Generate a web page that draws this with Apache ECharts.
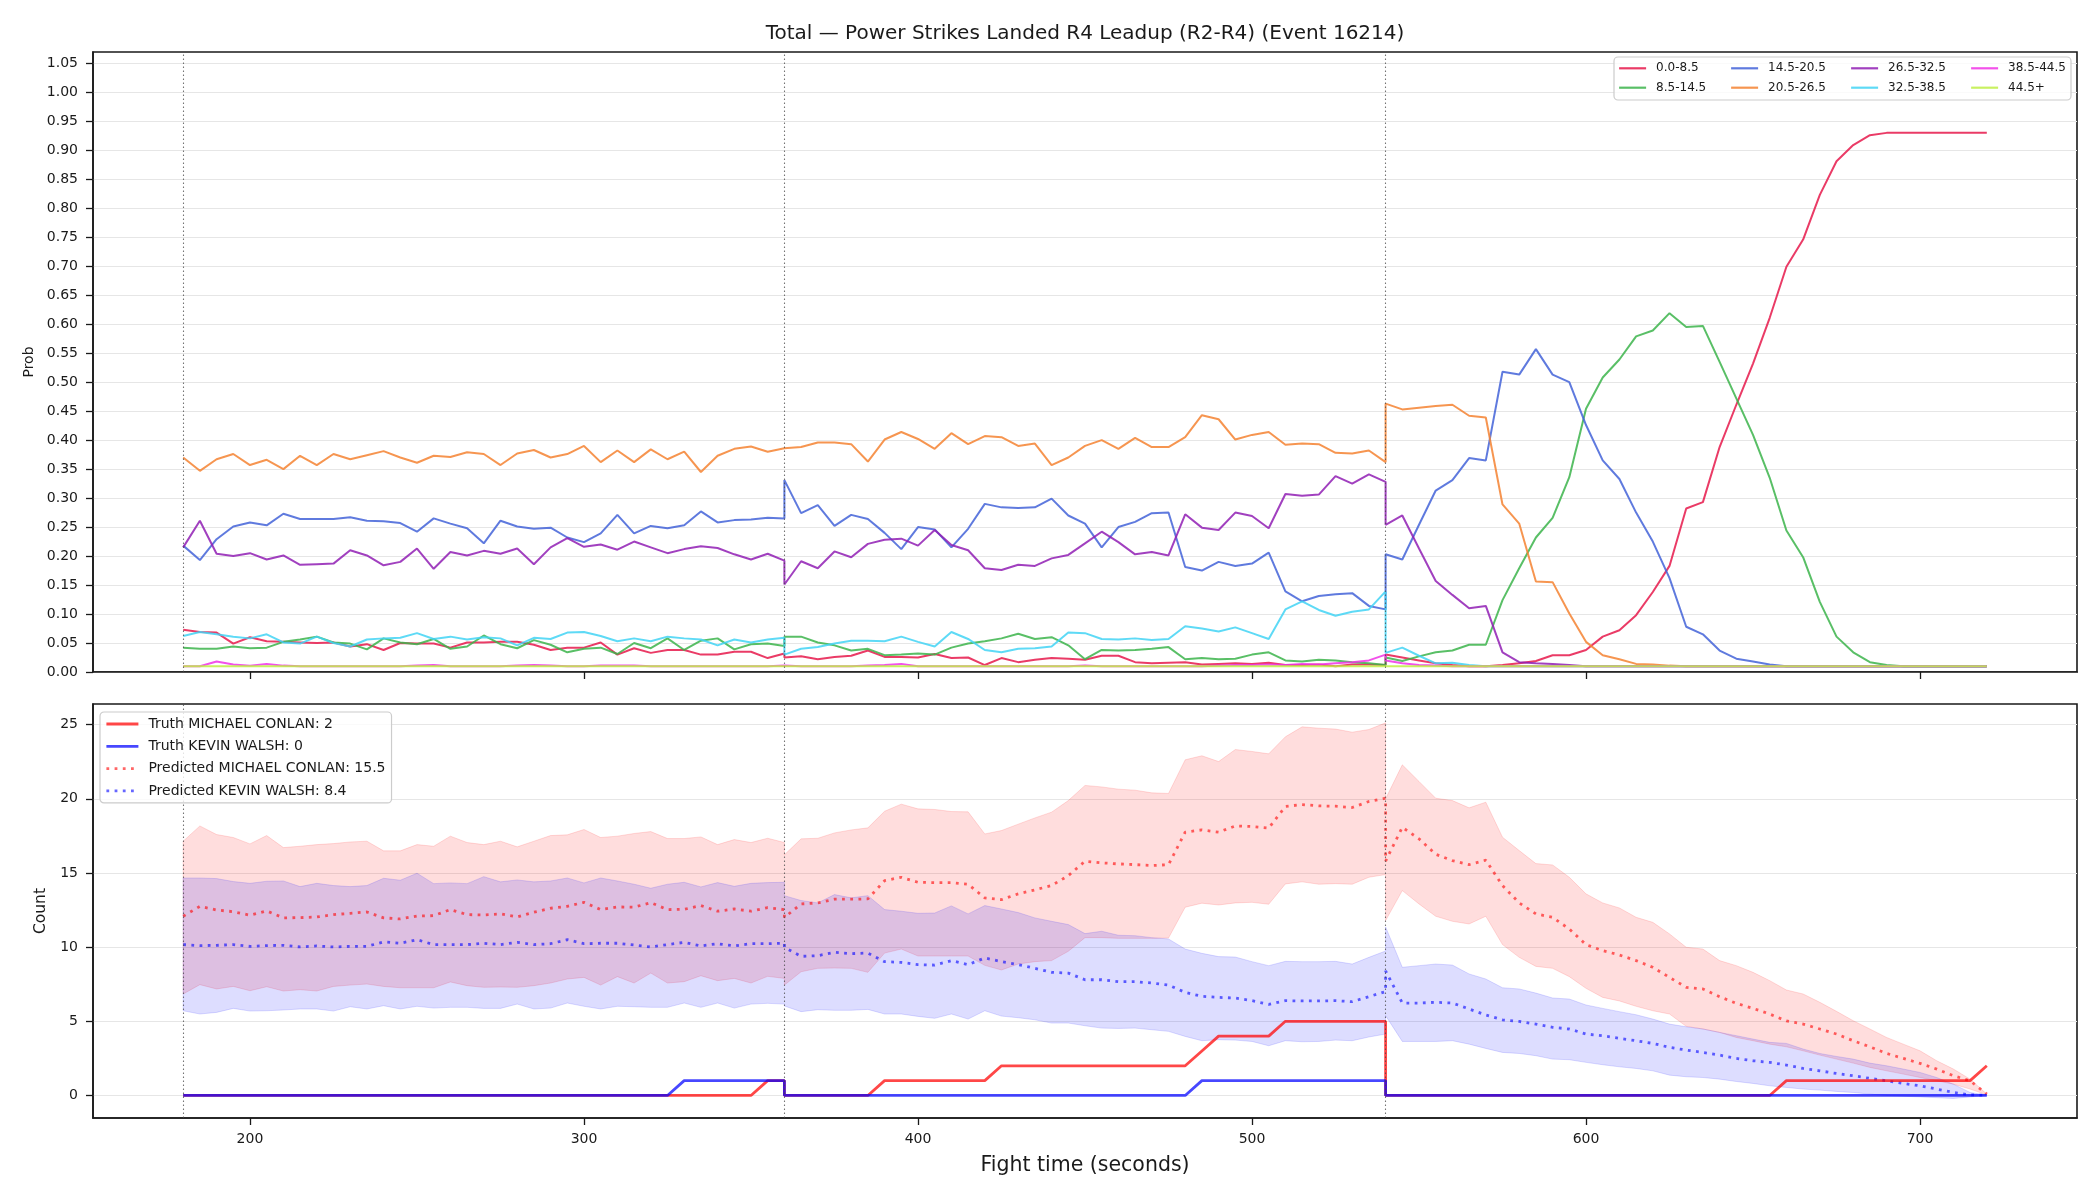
<!DOCTYPE html>
<html><head><meta charset="utf-8">
<script src="https://cdn.jsdelivr.net/npm/echarts@6/dist/echarts.min.js"></script>
<style>html,body{margin:0;padding:0;background:#fff}#c{width:2100px;height:1200px}</style>
</head><body><div id="c"></div>
<script>
// ---------- sampling grid (3 rounds, 5 s steps, 37 samples each) ----------
const roundStarts = [180, 360, 540];
const roundLabels = ['R2', 'R3', 'R4'];
const stepSec = 5, samplesPerRound = 37;
const times = [];
roundStarts.forEach(s => { for (let k = 0; k < samplesPerRound; k++) times.push(s + stepSec * k); });

const xTicks = [200, 300, 400, 500, 600, 700];
const yTicksTop = [0,0.05,0.1,0.15,0.2,0.25,0.3,0.35,0.4,0.45,0.5,0.55,0.6,0.65,0.7,0.75,0.8,0.85,0.9,0.95,1.0,1.05];
const yTicksBottom = [0, 5, 10, 15, 20, 25];

// ---------- top panel: probability per bucket ----------
const bucketNames = ['0.0-8.5','8.5-14.5','14.5-20.5','20.5-26.5','26.5-32.5','32.5-38.5','38.5-44.5','44.5+'];
const prob_0_8 = [
 0.073,0.069,0.068,0.049,0.060,0.053,0.052,0.051,0.050,0.051,0.044,0.048,0.038,0.050,0.049,0.049,0.042,0.051,0.051,0.052,0.052,0.047,0.038,0.042,0.042,0.051,0.030,0.041,0.033,0.038,0.038,0.030,0.030,0.035,0.035,0.024,0.032,
 0.025,0.027,0.022,0.026,0.028,0.037,0.026,0.026,0.025,0.031,0.024,0.025,0.012,0.024,0.017,0.021,0.024,0.023,0.021,0.028,0.028,0.017,0.015,0.016,0.017,0.013,0.014,0.015,0.014,0.016,0.012,0.012,0.013,0.010,0.013,0.013,0.012,
 0.030,0.025,0.020,0.015,0.012,0.010,0.010,0.012,0.015,0.019,0.029,0.029,0.038,0.061,0.072,0.098,0.138,0.183,0.282,0.293,0.388,0.461,0.532,0.611,0.699,0.746,0.823,0.881,0.909,0.926,0.930,0.930,0.930,0.930,0.930,0.930,0.930];
const prob_8_14 = [
 0.042,0.040,0.040,0.044,0.041,0.042,0.052,0.056,0.061,0.051,0.049,0.039,0.058,0.051,0.048,0.057,0.040,0.044,0.063,0.048,0.041,0.055,0.047,0.034,0.040,0.042,0.031,0.050,0.041,0.058,0.038,0.054,0.058,0.039,0.048,0.049,0.045,
 0.061,0.061,0.051,0.046,0.037,0.040,0.029,0.030,0.032,0.030,0.042,0.049,0.053,0.058,0.066,0.057,0.060,0.046,0.022,0.038,0.037,0.038,0.040,0.043,0.022,0.024,0.022,0.023,0.030,0.034,0.020,0.018,0.021,0.020,0.017,0.015,0.012,
 0.025,0.019,0.027,0.034,0.037,0.047,0.047,0.124,0.179,0.232,0.266,0.336,0.454,0.508,0.539,0.579,0.589,0.619,0.595,0.597,0.535,0.472,0.409,0.335,0.244,0.198,0.121,0.061,0.034,0.017,0.012,0.010,0.010,0.010,0.010,0.010,0.010];
const prob_14_20 = [
 0.218,0.193,0.229,0.251,0.258,0.253,0.273,0.264,0.264,0.264,0.267,0.261,0.260,0.257,0.242,0.265,0.256,0.248,0.222,0.261,0.251,0.247,0.249,0.232,0.224,0.239,0.271,0.239,0.252,0.248,0.253,0.277,0.258,0.262,0.263,0.266,0.265,
 0.331,0.274,0.288,0.252,0.271,0.264,0.240,0.212,0.250,0.246,0.215,0.247,0.290,0.284,0.283,0.284,0.299,0.270,0.256,0.215,0.250,0.259,0.274,0.275,0.181,0.175,0.190,0.183,0.187,0.206,0.139,0.122,0.131,0.134,0.136,0.114,0.108,
 0.203,0.194,0.254,0.313,0.331,0.369,0.365,0.518,0.513,0.557,0.513,0.500,0.426,0.365,0.333,0.275,0.225,0.162,0.078,0.065,0.037,0.023,0.018,0.013,0.010,0.010,0.010,0.010,0.010,0.010,0.010,0.010,0.010,0.010,0.010,0.010,0.010];
const prob_20_26 = [
 0.370,0.347,0.367,0.376,0.357,0.366,0.350,0.373,0.357,0.376,0.367,0.374,0.381,0.370,0.361,0.373,0.371,0.379,0.376,0.357,0.377,0.383,0.370,0.376,0.390,0.362,0.382,0.362,0.384,0.367,0.380,0.345,0.373,0.385,0.389,0.380,0.386,
 0.388,0.388,0.396,0.396,0.393,0.363,0.401,0.414,0.402,0.385,0.412,0.393,0.407,0.405,0.390,0.394,0.357,0.370,0.390,0.400,0.385,0.404,0.388,0.388,0.405,0.443,0.436,0.401,0.409,0.414,0.392,0.394,0.393,0.378,0.377,0.382,0.362,
 0.463,0.453,0.456,0.459,0.461,0.442,0.439,0.289,0.256,0.156,0.155,0.101,0.052,0.029,0.022,0.014,0.013,0.011,0.010,0.010,0.010,0.010,0.010,0.010,0.010,0.010,0.010,0.010,0.010,0.010,0.010,0.010,0.010,0.010,0.010,0.010,0.010];
const prob_26_32 = [
 0.215,0.261,0.204,0.200,0.205,0.194,0.201,0.185,0.186,0.187,0.210,0.201,0.184,0.190,0.213,0.178,0.207,0.201,0.209,0.204,0.213,0.186,0.215,0.231,0.216,0.220,0.211,0.225,0.215,0.205,0.212,0.217,0.214,0.203,0.194,0.204,0.192,
 0.151,0.191,0.179,0.208,0.198,0.221,0.228,0.230,0.218,0.245,0.219,0.210,0.179,0.176,0.185,0.183,0.196,0.202,0.222,0.242,0.224,0.203,0.207,0.201,0.272,0.249,0.245,0.275,0.269,0.248,0.307,0.304,0.306,0.338,0.325,0.341,0.328,
 0.254,0.270,0.213,0.157,0.133,0.110,0.114,0.034,0.017,0.015,0.014,0.012,0.010,0.010,0.010,0.010,0.010,0.010,0.010,0.010,0.010,0.010,0.010,0.010,0.010,0.010,0.010,0.010,0.010,0.010,0.010,0.010,0.010,0.010,0.010,0.010,0.010];
const prob_32_38 = [
 0.062,0.069,0.065,0.061,0.058,0.065,0.051,0.049,0.061,0.050,0.044,0.056,0.058,0.059,0.067,0.057,0.061,0.056,0.060,0.058,0.046,0.059,0.057,0.068,0.069,0.062,0.053,0.058,0.053,0.061,0.058,0.056,0.046,0.056,0.051,0.056,0.059,
 0.030,0.040,0.043,0.049,0.054,0.054,0.053,0.061,0.052,0.044,0.069,0.057,0.038,0.034,0.040,0.041,0.044,0.068,0.067,0.057,0.056,0.058,0.055,0.057,0.079,0.075,0.070,0.077,0.067,0.057,0.108,0.122,0.107,0.097,0.104,0.108,0.139,
 0.033,0.042,0.028,0.015,0.016,0.012,0.010,0.010,0.010,0.010,0.010,0.010,0.010,0.010,0.010,0.010,0.010,0.010,0.010,0.010,0.010,0.010,0.010,0.010,0.010,0.010,0.010,0.010,0.010,0.010,0.010,0.010,0.010,0.010,0.010,0.010,0.010];
const prob_38_44 = [
 0.010,0.010,0.018,0.013,0.011,0.014,0.011,0.010,0.010,0.010,0.010,0.010,0.010,0.010,0.011,0.012,0.010,0.010,0.010,0.010,0.011,0.012,0.011,0.010,0.010,0.011,0.011,0.011,0.010,0.010,0.010,0.010,0.010,0.010,0.010,0.010,0.011,
 0.011,0.010,0.010,0.010,0.010,0.011,0.012,0.014,0.010,0.010,0.010,0.010,0.010,0.010,0.010,0.010,0.010,0.010,0.011,0.010,0.010,0.010,0.010,0.010,0.010,0.010,0.011,0.012,0.012,0.013,0.012,0.014,0.013,0.015,0.017,0.020,0.030,
 0.020,0.015,0.012,0.011,0.010,0.010,0.010,0.010,0.010,0.010,0.010,0.010,0.010,0.010,0.010,0.010,0.010,0.010,0.010,0.010,0.010,0.010,0.010,0.010,0.010,0.010,0.010,0.010,0.010,0.010,0.010,0.010,0.010,0.010,0.010,0.010,0.010];
const prob_44_up = [
 0.010,0.010,0.010,0.010,0.010,0.010,0.010,0.010,0.010,0.010,0.010,0.010,0.010,0.010,0.010,0.010,0.010,0.010,0.010,0.010,0.010,0.010,0.010,0.010,0.010,0.010,0.010,0.010,0.010,0.010,0.010,0.010,0.010,0.010,0.010,0.010,0.010,
 0.010,0.010,0.010,0.010,0.010,0.010,0.010,0.010,0.010,0.010,0.010,0.010,0.010,0.010,0.010,0.010,0.010,0.010,0.010,0.010,0.010,0.010,0.010,0.010,0.010,0.010,0.010,0.010,0.010,0.010,0.010,0.010,0.010,0.010,0.010,0.010,0.010,
 0.010,0.010,0.010,0.010,0.010,0.010,0.010,0.010,0.010,0.010,0.010,0.010,0.010,0.010,0.010,0.010,0.010,0.010,0.010,0.010,0.010,0.010,0.010,0.010,0.010,0.010,0.010,0.010,0.010,0.010,0.010,0.010,0.010,0.010,0.010,0.010,0.010];
const bucketValues = [prob_0_8, prob_8_14, prob_14_20, prob_20_26, prob_26_32, prob_32_38, prob_38_44, prob_44_up];
const bucketColors = ['rgba(230,25,75,0.85)','rgba(60,180,75,0.85)','rgba(67,99,216,0.85)','rgba(245,130,49,0.85)',
                      'rgba(145,30,180,0.85)','rgba(66,212,244,0.85)','rgba(240,50,230,0.85)','rgba(191,239,69,0.85)'];

// ---------- bottom panel: counts ----------
const nameTruthA = 'Truth MICHAEL CONLAN: 2';
const nameTruthB = 'Truth KEVIN WALSH: 0';
const namePredA = 'Predicted MICHAEL CONLAN: 15.5';
const namePredB = 'Predicted KEVIN WALSH: 8.4';
const truthA = [
 0,0,0,0,0,0,0,0,0,0,0,0,0,0,0,0,0,0,0,0,0,0,0,0,0,0,0,0,0,0,0,0,0,0,0,1,1,
 0,0,0,0,0,0,1,1,1,1,1,1,1,2,2,2,2,2,2,2,2,2,2,2,2,3,4,4,4,4,5,5,5,5,5,5,5,
 0,0,0,0,0,0,0,0,0,0,0,0,0,0,0,0,0,0,0,0,0,0,0,0,1,1,1,1,1,1,1,1,1,1,1,1,2];
const truthB = [
 0,0,0,0,0,0,0,0,0,0,0,0,0,0,0,0,0,0,0,0,0,0,0,0,0,0,0,0,0,0,1,1,1,1,1,1,1,
 0,0,0,0,0,0,0,0,0,0,0,0,0,0,0,0,0,0,0,0,0,0,0,0,0,1,1,1,1,1,1,1,1,1,1,1,1,
 0,0,0,0,0,0,0,0,0,0,0,0,0,0,0,0,0,0,0,0,0,0,0,0,0,0,0,0,0,0,0,0,0,0,0,0,0];
const predA = [
 12.08,12.75,12.5,12.39,12.15,12.44,11.97,11.99,12.03,12.19,12.28,12.37,11.97,11.9,12.1,12.12,12.53,12.19,12.17,12.24,12.03,12.35,12.62,12.75,13.02,12.53,12.71,12.69,13.0,12.53,12.55,12.8,12.42,12.57,12.42,12.66,12.53,
 12.0,12.91,12.98,13.23,13.23,13.25,14.48,14.71,14.37,14.35,14.35,14.24,13.32,13.2,13.59,13.86,14.15,14.82,15.79,15.68,15.61,15.56,15.5,15.56,17.75,17.9,17.75,18.17,18.13,18.02,19.48,19.61,19.52,19.5,19.41,19.82,20.04,
 15.8,18.08,17.3,16.26,15.83,15.56,15.86,14.15,12.98,12.24,12.01,11.22,10.17,9.76,9.47,9.09,8.64,7.96,7.29,7.18,6.66,6.21,5.87,5.49,5.02,4.81,4.48,4.14,3.69,3.28,2.83,2.5,2.16,1.78,1.33,0.99,0.09];
const predB = [
 10.17,10.1,10.12,10.17,10.05,10.1,10.12,10.01,10.08,10.01,10.05,10.05,10.35,10.26,10.5,10.17,10.17,10.17,10.26,10.17,10.32,10.17,10.23,10.5,10.23,10.26,10.26,10.14,10.01,10.17,10.32,10.08,10.23,10.08,10.23,10.23,10.26,
 9.99,9.38,9.42,9.65,9.56,9.6,9.02,8.97,8.82,8.79,9.09,8.82,9.27,9.02,8.82,8.57,8.3,8.25,7.8,7.8,7.67,7.67,7.58,7.44,6.95,6.68,6.61,6.57,6.39,6.14,6.39,6.37,6.37,6.39,6.32,6.66,7.0,
 8.4,6.23,6.23,6.28,6.23,5.83,5.42,5.1,4.99,4.81,4.59,4.48,4.14,4.03,3.85,3.69,3.51,3.24,3.06,2.9,2.72,2.5,2.34,2.23,2.05,1.82,1.66,1.48,1.33,1.15,0.99,0.81,0.65,0.43,0.2,0.04,0.02];
const upperA = [
 17.14,18.17,17.59,17.39,16.96,17.52,16.71,16.8,16.91,16.98,17.09,17.14,16.49,16.49,16.91,16.8,17.48,17.05,16.91,17.14,16.76,17.14,17.52,17.57,17.93,17.39,17.48,17.66,17.79,17.32,17.32,17.43,16.91,17.25,17.05,17.34,17.05,
 16.22,17.3,17.34,17.7,17.9,18.04,19.16,19.64,19.32,19.28,19.14,19.12,17.63,17.86,18.29,18.71,19.1,19.88,20.9,20.8,20.65,20.58,20.4,20.36,22.63,22.9,22.51,23.32,23.19,23.03,24.18,24.85,24.76,24.7,24.49,24.67,25.12,
 20.0,22.29,21.17,20.04,19.88,19.39,19.77,17.41,16.51,15.63,15.54,14.71,13.59,12.98,12.64,12.01,11.67,10.89,9.99,9.87,9.09,8.75,8.3,7.74,7.11,6.84,6.28,5.67,5.04,4.48,3.91,3.46,3.01,2.34,1.78,1.1,0.09];
const lowerA = [
 6.84,7.47,7.18,7.35,7.06,7.33,7.04,7.13,7.04,7.35,7.44,7.51,7.35,7.26,7.26,7.26,7.65,7.4,7.29,7.31,7.29,7.4,7.58,7.85,7.96,7.44,8.01,7.58,8.25,7.58,7.67,8.07,7.74,7.89,7.58,8.03,7.89,
 7.44,8.34,8.57,8.59,8.57,8.3,9.6,9.87,9.4,9.4,9.4,9.4,8.77,8.46,8.86,9.02,9.09,9.72,10.64,10.64,10.59,10.59,10.59,10.61,12.69,12.96,12.84,12.98,13.02,12.89,14.26,14.4,14.24,14.28,14.24,14.71,14.89,
 11.79,13.81,12.91,12.08,11.74,11.56,12.08,10.17,9.31,8.7,8.57,8.01,7.22,6.61,6.37,6.01,5.71,5.49,4.66,4.48,4.25,3.91,3.69,3.46,3.28,3.01,2.72,2.45,2.18,1.89,1.66,1.44,1.21,0.99,0.76,0.43,0.04];
const upperB = [
 14.66,14.66,14.62,14.42,14.3,14.44,14.46,14.08,14.3,14.15,14.08,14.15,14.64,14.51,14.98,14.28,14.33,14.28,14.75,14.4,14.53,14.4,14.46,14.66,14.33,14.66,14.46,14.24,13.97,14.24,14.37,14.06,14.35,14.1,14.3,14.35,14.37,
 13.47,13.14,12.98,13.54,13.32,13.47,12.53,12.42,12.28,12.3,12.78,12.24,12.8,12.57,12.33,11.97,11.74,11.52,10.91,11.07,10.8,10.77,10.64,10.55,9.87,9.58,9.36,9.33,9.02,8.75,9.04,9.02,9.02,9.04,8.86,9.31,9.74,
 11.36,8.64,8.75,8.86,8.79,8.19,7.85,7.26,7.18,6.9,6.57,6.5,6.1,5.87,5.65,5.44,5.15,4.81,4.63,4.48,4.25,4.03,3.8,3.58,3.51,3.13,2.83,2.63,2.45,2.18,2.0,1.78,1.55,1.21,0.76,0.2,0.02];
const lowerB = [
 5.71,5.49,5.6,5.87,5.69,5.71,5.76,5.83,5.83,5.69,5.98,5.83,6.05,5.83,6.01,5.89,5.94,5.94,5.87,5.87,6.16,5.83,5.89,6.23,6.01,5.83,6.01,5.98,5.94,5.94,6.23,5.94,6.23,5.89,6.16,6.21,6.16,
 6.03,5.65,5.78,5.74,5.74,5.8,5.49,5.49,5.33,5.2,5.49,5.15,5.71,5.35,5.24,5.1,4.88,4.88,4.7,4.54,4.52,4.54,4.43,4.32,3.98,3.69,3.76,3.73,3.64,3.35,3.69,3.62,3.64,3.73,3.69,3.94,4.14,
 5.38,3.64,3.64,3.64,3.69,3.46,3.17,2.9,2.83,2.68,2.45,2.41,2.23,2.07,1.93,1.82,1.66,1.37,1.26,1.21,1.1,0.94,0.81,0.65,0.54,0.43,0.36,0.27,0.2,0.09,0.0,-0.05,-0.1,-0.15,-0.2,-0.1,0.0];

// ---------- build chart ----------
const FONT = 'DejaVu Sans';
const TXT = '#1a1a1a';
const pair = vals => times.map((t, i) => [t, vals[i]]);

const GL = 93, GW = 1984;
const grids = [
  {left: GL, top: 52, width: GW, height: 620},
  {left: GL, top: 704, width: GW, height: 414}
].map(g => Object.assign(g, {show: true, borderColor: '#1a1a1a', borderWidth: 1.6, backgroundColor: 'transparent',
  containLabel: false, outerBoundsMode: 'none'}));

function xAxisCfg(idx, showLabels) {
  return {type: 'value', gridIndex: idx, min: 153, max: 747,
    axisLine: {show: true, onZero: false, lineStyle: {color: '#1a1a1a', width: 1.6}},
    axisTick: {show: true, length: 7, inside: false, customValues: xTicks, lineStyle: {color: '#1a1a1a', width: 1.3}},
    axisLabel: {show: showLabels, customValues: xTicks, margin: 14, fontSize: 14, fontFamily: FONT, color: TXT},
    splitLine: {show: false},
    name: showLabels ? 'Fight time (seconds)' : '', nameLocation: 'middle', nameGap: 37, nameMoveOverlap: false,
    nameTextStyle: {fontSize: 20.5, fontFamily: FONT, color: TXT}};
}
const yTop = {type: 'value', gridIndex: 0, min: 0, max: 1.0695, interval: 0.05,
  axisLine: {show: true, onZero: false, lineStyle: {color: '#1a1a1a', width: 1.6}},
  axisTick: {show: true, length: 7, customValues: yTicksTop, lineStyle: {color: '#1a1a1a', width: 1.3}},
  axisLabel: {customValues: yTicksTop, margin: 15, fontSize: 14, fontFamily: FONT, color: TXT, formatter: v => v.toFixed(2)},
  splitLine: {show: true, lineStyle: {color: '#e6e6e6', width: 1}},
  name: 'Prob', nameLocation: 'middle', nameGap: 57, nameMoveOverlap: false, nameTextStyle: {fontSize: 14, fontFamily: FONT, color: TXT}};
const yBot = {type: 'value', gridIndex: 1, min: -1.52, max: 26.39, splitNumber: 5,
  axisLine: {show: true, onZero: false, lineStyle: {color: '#1a1a1a', width: 1.6}},
  axisTick: {show: true, length: 7, customValues: yTicksBottom, lineStyle: {color: '#1a1a1a', width: 1.3}},
  axisLabel: {customValues: yTicksBottom, margin: 15, fontSize: 14, fontFamily: FONT, color: TXT},
  splitLine: {show: true, lineStyle: {color: '#e6e6e6', width: 1}},
  name: 'Count', nameLocation: 'middle', nameGap: 44, nameMoveOverlap: false, nameTextStyle: {fontSize: 15.5, fontFamily: FONT, color: TXT}};

const vLines = {symbol: ['none', 'none'], silent: true, label: {show: false}, animation: false,
  lineStyle: {color: 'rgba(70,70,70,0.75)', type: [1.5, 2.5], width: 1.1},
  data: roundStarts.map(t => ({xAxis: t}))};

const series = [];
bucketNames.forEach((nm, i) => {
  const s = {type: 'line', name: nm, xAxisIndex: 0, yAxisIndex: 0, data: pair(bucketValues[i]),
    symbol: 'none', showSymbol: false, z: 3,
    lineStyle: {color: bucketColors[i], width: 2}, itemStyle: {color: bucketColors[i]}};
  if (i === 0) s.markLine = vLines;
  series.push(s);
});

function band(upper, lower, fill) {
  return {type: 'custom', xAxisIndex: 1, yAxisIndex: 1, silent: true, z: 1, clip: true,
    data: [[times[0], lower[0]]],
    renderItem: (params, api) => {
      const pts = [];
      for (let i = 0; i < times.length; i++) pts.push(api.coord([times[i], upper[i]]));
      for (let i = times.length - 1; i >= 0; i--) pts.push(api.coord([times[i], lower[i]]));
      return {type: 'polygon', shape: {points: pts}, style: {fill: fill, stroke: fill, lineWidth: 1}};
    }};
}
series.push(band(upperA, lowerA, 'rgba(255,0,0,0.135)'));
series.push(band(upperB, lowerB, 'rgba(0,0,255,0.135)'));
series.push({type: 'line', name: namePredA, xAxisIndex: 1, yAxisIndex: 1, data: pair(predA), symbol: 'none', z: 3,
  lineStyle: {color: 'rgba(255,0,0,0.6)', width: 2.8, type: [2.8, 5.4]}, itemStyle: {color: 'rgba(255,0,0,0.6)'},
  markLine: vLines});
series.push({type: 'line', name: namePredB, xAxisIndex: 1, yAxisIndex: 1, data: pair(predB), symbol: 'none', z: 3,
  lineStyle: {color: 'rgba(0,0,255,0.6)', width: 2.8, type: [2.8, 5.4]}, itemStyle: {color: 'rgba(0,0,255,0.6)'}});
series.push({type: 'line', name: nameTruthA, xAxisIndex: 1, yAxisIndex: 1, data: pair(truthA), symbol: 'none', z: 4,
  lineStyle: {color: 'rgba(255,0,0,0.72)', width: 2.8}, itemStyle: {color: 'rgba(255,0,0,0.72)'}});
series.push({type: 'line', name: nameTruthB, xAxisIndex: 1, yAxisIndex: 1, data: pair(truthB), symbol: 'none', z: 4,
  lineStyle: {color: 'rgba(0,0,255,0.72)', width: 2.8}, itemStyle: {color: 'rgba(0,0,255,0.72)'}});

// round labels
function roundLabelSeries(gi, yv, which) {
  return {type: 'scatter', xAxisIndex: gi, yAxisIndex: gi, silent: true, z: 5, symbolSize: 1,
    itemStyle: {opacity: 0},
    data: which.map(k => [roundStarts[k], yv, roundLabels[k]]),
    label: {show: true, position: 'right', distance: 6, formatter: p => p.data[2],
      fontSize: 15, fontFamily: FONT, color: 'rgba(90,90,90,0.9)'}};
}
series.push(roundLabelSeries(0, 1.025, [0, 1, 2]));
series.push(roundLabelSeries(1, 25.1, [1, 2]));

// legends (line-only icons: hide the legend symbol)
const noSymbol = {color: 'rgba(0,0,0,0)', borderColor: 'rgba(0,0,0,0)', borderWidth: 0, opacity: 0};
const legCols = [1618, 1730, 1850, 1970];
const legRows = [68.3, 87.7];
const legends = bucketNames.map((nm, i) => ({
  show: true, data: [nm], selectedMode: false, left: legCols[Math.floor(i / 2)], top: legRows[i % 2] - 7,
  padding: 0, itemWidth: 27, itemHeight: 14, z: 20, itemStyle: noSymbol, lineStyle: {width: 2.2},
  textStyle: {fontSize: 12, fontFamily: FONT, color: TXT, lineHeight: 14, padding: [0, 0, 0, 5]}
}));
legends.push({show: true, orient: 'vertical', data: [nameTruthA, nameTruthB, namePredA, namePredB], selectedMode: false,
  left: 100, top: 712, padding: [5, 6, 5, 5], itemWidth: 32, itemHeight: 14, itemGap: 8.3, z: 20, itemStyle: noSymbol,
  lineStyle: {width: 2.8},
  backgroundColor: 'rgba(255,255,255,0.8)', borderColor: '#cccccc', borderWidth: 1.2, borderRadius: 4,
  textStyle: {fontSize: 14, fontFamily: FONT, color: TXT, lineHeight: 14, padding: [0, 0, 0, 5]}});

const chart = echarts.init(document.getElementById('c'), null, {renderer: 'canvas', width: 2100, height: 1200});
chart.setOption({
  backgroundColor: '#ffffff',
  animation: false,
  grid: grids,
  xAxis: [xAxisCfg(0, false), xAxisCfg(1, true)],
  yAxis: [yTop, yBot],
  legend: legends,
  graphic: [
    {type: 'rect', z: 10, shape: {x: 1614, y: 57, width: 457, height: 43, r: 4},
     style: {fill: 'rgba(255,255,255,0.8)', stroke: '#cccccc', lineWidth: 1.2}},
    {type: 'text', z: 10, x: 1085, y: 34,
     style: {text: 'Total — Power Strikes Landed R4 Leadup (R2-R4) (Event 16214)', font: '20px "DejaVu Sans"',
       fill: TXT, textAlign: 'center', textVerticalAlign: 'middle'}}
  ],
  series: series
});
</script></body></html>
